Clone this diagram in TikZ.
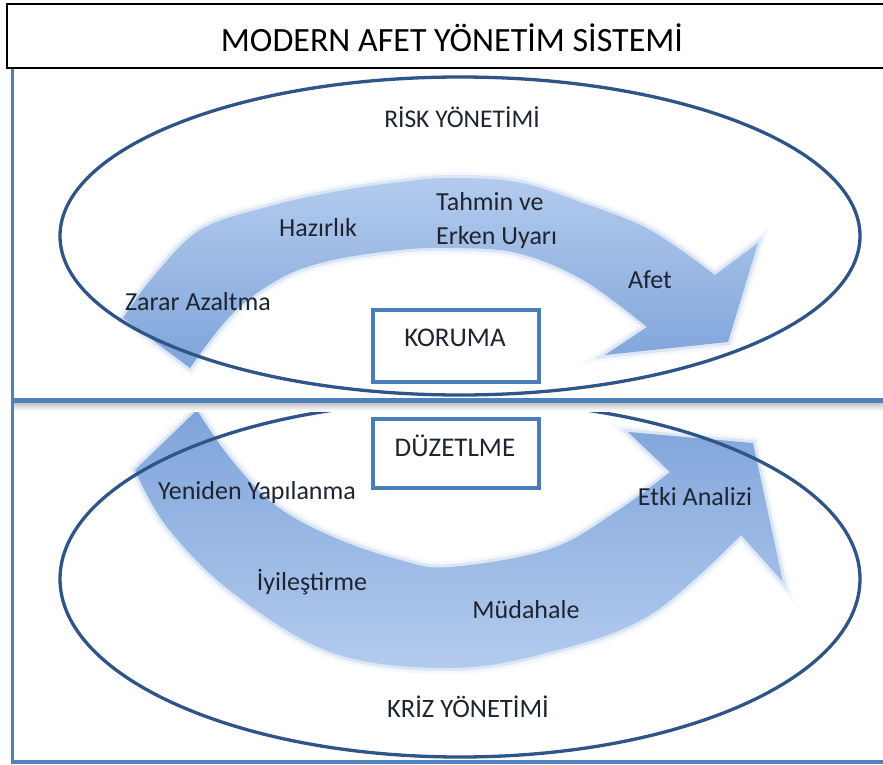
\documentclass[tikz,border=0pt]{standalone}
\usepackage{fontspec}
\setmainfont{Carlito}
\definecolor{framec}{HTML}{4F81BD}
\definecolor{ellc}{HTML}{2F5488}
\definecolor{boxc}{HTML}{4A7DBA}
\definecolor{bandA}{HTML}{B3CBEE}
\definecolor{bandB}{HTML}{7FA4DA}
\definecolor{glow}{HTML}{A9C2E8}
\definecolor{txt}{HTML}{1E2430}
\begin{document}
\begin{tikzpicture}[x=1pt,y=-1pt,
  lab/.style={font=\fontsize{26}{30}\selectfont, text=txt, inner sep=0pt},
  caplab/.style={font=\fontsize{25.5}{28}\selectfont, text=txt, inner sep=0pt},
  boxlab/.style={font=\fontsize{27}{30}\selectfont, text=txt, inner sep=0pt},
  boxst/.style={draw=boxc, line width=3.5pt, fill=white, inner sep=0pt},
  ellst/.style={draw=ellc, line width=3.3pt},
  band/.style={line join=round,
    preaction={draw=glow, line width=12pt, draw opacity=0.12},
    preaction={draw=glow, line width=6pt, draw opacity=0.3}}]
\useasboundingbox (0,0) rectangle (883,765);
\clip (0,0) rectangle (883,765);
\fill[white] (0,0) rectangle (883,765);

% upper curved arrow
\path[band, top color=bandA, bottom color=bandB]
  plot[smooth, tension=0.6] coordinates {(123,318) (153,277) (200,230) (267,207) (333,192) (400,182) (450,178) (517,182) (583,203) (650,230) (715,275)}
  -- (758,243) -- (728,342) -- (605,355) -- (647,327)
  -- plot[smooth, tension=0.6] coordinates {(647,327) (583,280) (517,253) (450,248) (400,250) (333,260) (283,277) (233,313) (190,368)}
  -- cycle;

% lower curved arrow
\path[band, top color=bandB, bottom color=bandA]
  plot[smooth, tension=0.6] coordinates {(135,470) (167,527) (233,593) (333,653) (450,668) (550,652) (650,615) (741,535)}
  -- (783,582) -- (753,443) -- (628,432) -- (670,472)
  -- plot[smooth, tension=0.6] coordinates {(670,472) (617,511) (550,549) (450,567) (400,560) (333,537) (275,505) (230,458) (197,410)}
  -- cycle;

% ellipses
\draw[ellst] (460,236) ellipse [x radius=400, y radius=159];
\draw[ellst] (460,579) ellipse [x radius=400, y radius=178];

% frame
\fill[top color=black!25, bottom color=white] (12,402) rectangle (890,411);
\draw[framec, line width=5pt] (12,400) -- (890,400);
\draw[framec, line width=3pt] (12,68) -- (12,762);
\draw[framec, line width=4pt] (10.5,762) -- (890,762);
\draw[black, line width=1.5pt] (890,4) -- (7,4) -- (7,68) -- (890,68);

% title
\node[font=\fontsize{34}{38}\selectfont, text=black, inner sep=0pt] (title) at (452,38) {MODERN AFET YÖNETİM SİSTEMİ};

% boxes
\node[boxst, minimum width=166pt, minimum height=72pt] (korumabox) at (456,346) {};
\node[boxlab] (koruma) at (455,338) {KORUMA};
\node[boxst, minimum width=166pt, minimum height=69pt] (duzbox) at (456,453.5) {};
\node[boxlab] (duzetlme) at (455,446) {DÜZETLME};

% labels
\node[caplab] (risk) at (462,117) {RİSK YÖNETİMİ};
\node[caplab, font=\fontsize{26.5}{30}\selectfont] (kriz) at (468,707) {KRİZ YÖNETİMİ};
\node[lab] (zarar) at (198,302) {Zarar Azaltma};
\node[lab] (hazir) at (318,228) {Hazırlık};
\node[lab, anchor=west] (tahmin) at (436,202) {Tahmin ve};
\node[lab, anchor=west] (erken) at (436,238) {Erken Uyarı};
\node[lab] (afet) at (650,280) {Afet};
\node[lab] (yeniden) at (257,493) {Yeniden Yapılanma};
\node[lab] (iyi) at (312,582) {İyileştirme};
\node[lab] (mudahale) at (526,610) {Müdahale};
\node[lab] (etki) at (695,497) {Etki Analizi};
\end{tikzpicture}
\end{document}
